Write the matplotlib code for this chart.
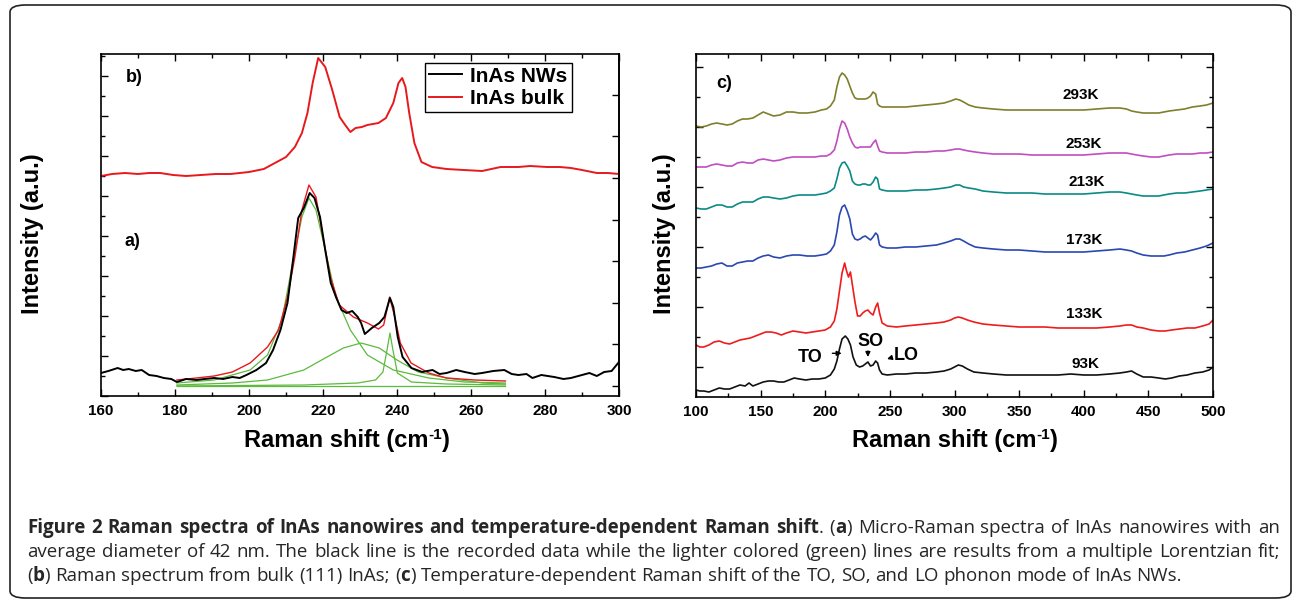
import matplotlib.pyplot as plt
from matplotlib.patches import FancyBboxPatch
from matplotlib.ticker import MultipleLocator, FixedLocator

W, H = 1293, 602

# ---- panels a) and b): Raman shift (cm-1) vs intensity (a.u.) ----
bulk_x = [160, 163, 166.5, 170, 173, 176, 179.5, 183, 187, 191, 195, 200, 204, 207, 210,
          212.4, 214.3, 215.8, 217.2, 218.7, 220.6, 222.5, 224.5, 226, 227.4, 228.8, 230.5,
          232, 235, 237, 239, 240.4, 241.4, 242.3, 243.3, 244.7, 246.6, 249.5, 253.4, 258,
          263, 268, 272.8, 276, 280.5, 284, 287, 290, 294, 297, 300]
bulk_y = [220, 222, 223, 222, 223, 223, 221, 220, 221, 222, 222, 224, 227, 233, 239,
          249, 263, 283, 313, 338, 329, 306, 279, 271, 264, 268, 269,
          271, 273, 278, 293, 313, 318, 309, 283, 253, 234, 229, 227, 226,
          225, 229, 229, 230, 229, 229, 228, 226, 223, 223, 222]

nw_x = [160, 162, 164.5, 166, 167.5, 169.4, 171, 173, 175, 177, 179, 180.5, 183, 185.8, 188,
        190.6, 193, 195.5, 197.5, 199.3, 202, 204.6, 206.5, 208.5, 210.4, 211.9, 213.3,
        214.8, 216.4, 217.7, 219.2, 220.6, 222.1, 223.5, 225, 226.4, 227.9, 229.4, 230.3,
        231.3, 233.2, 235.2, 236.6, 238.1, 239, 240.2, 241.5, 243.9, 246.8, 249.6, 251.5,
        253.4, 256, 258.3, 261, 263, 266, 269, 271, 272.8, 275, 276.6, 279, 282.5, 285,
        287, 290, 292, 294, 296, 298, 300]
nw_y = [23, 25, 28, 26, 27, 25, 26, 21, 20, 18, 17, 14, 17, 16, 17,
        18, 17, 19, 18, 21, 26, 33, 46, 66, 93, 136, 178,
        188, 203, 198, 179, 146, 113, 99, 86, 83, 85, 79, 73,
        62, 68, 73, 79, 98, 89, 59, 39, 28, 24, 26, 22,
        23, 26, 24, 22, 23, 25, 26, 22, 21, 22, 18, 21, 19, 17,
        18, 21, 23, 20, 24, 25, 34]

fit_x = [180.5, 185.8, 190.6, 195.5, 200.3, 205, 208, 210.4, 212.4, 214.3, 216.2, 218.1,
         220, 222, 224.4, 228.2, 232, 235, 236.4, 238, 239.4, 240.9, 243.8, 248.6, 253.4,
         261, 269.3]
fit_y = [16, 18, 20, 24, 33, 49, 66, 99, 139, 186, 211, 199,
         159, 119, 91, 79, 73, 67, 71, 99, 79, 53, 33, 23, 18,
         16, 15]

to_x = [180.5, 190.6, 200.3, 205, 208.9, 211.8, 214.3, 216.2, 218.1, 220.6, 223.5, 227.4,
        232, 239, 248.6, 258.3, 269.3]
to_y = [13, 16, 26, 41, 76, 133, 179, 198, 186, 146, 99, 66,
        41, 26, 18, 14, 13]

so_x = [180.5, 195.5, 205, 214.8, 220.6, 225.5, 230.3, 235.2, 240, 245.7, 253.4, 263, 269.3]
so_y = [11, 13, 16, 26, 38, 48, 53, 48, 36, 24, 18, 13, 12]

lo_x = [180.5, 214.8, 229.4, 234.2, 236.2, 237.3, 238.1, 238.9, 240.1, 243.9, 253.4, 269.3]
lo_y = [10, 11, 13, 16, 24, 46, 63, 46, 23, 14, 12, 11]

# ---- panel c): temperature series ----
temps = ["93K", "133K", "173K", "213K", "253K", "293K"]
colors = ["#111111", "#ee1c1c", "#2a48b0", "#0a8a86", "#c04ec0", "#7f7f2c"]

t93_x = [100, 103, 106, 110, 114, 118, 122, 126, 130, 134, 138, 141, 144, 148, 152, 156,
         160, 164, 168, 172, 176, 180, 185, 190, 195, 200, 204, 207, 209, 211, 213, 215.5,
         217.5, 219.5, 221.5, 224, 226.5, 229, 231, 233, 235, 237, 239, 240.5, 242, 244,
         248, 255, 262, 270, 278, 286, 292, 297, 300, 303, 306, 310, 315, 322, 330, 340,
         350, 360, 370, 380, 390, 400, 410, 420, 428, 433, 437, 441, 446, 452, 458, 463,
         468, 474, 480, 486, 492, 497, 500]
t93_y = [7, 6, 6, 5, 7, 9, 8, 8, 10, 12, 11, 14, 11, 13, 15, 16,
         16, 15, 15, 17, 19, 18, 17, 18, 18, 19, 22, 28, 36, 48, 58, 61,
         58, 52, 40, 32, 30, 31, 33, 35, 31, 32, 36, 34, 27, 23,
         22, 23, 23, 24, 24, 25, 26, 28, 30, 32, 31, 28, 25, 24, 23, 22,
         22, 22, 22, 22, 23, 22, 22, 23, 24, 25, 26, 23, 20, 20, 19, 18,
         19, 21, 22, 24, 25, 27, 30]

t133_x = [100, 103, 106, 110, 114, 118, 122, 126, 130, 134, 138, 142, 146, 150, 154, 158,
          162, 166, 170, 175, 180, 185, 190, 195, 200, 204, 207, 209, 211, 213, 215, 216.5,
          218, 219.5, 221, 223, 225, 227, 229, 231, 233, 235, 237, 239, 240.5, 242, 244,
          248, 255, 262, 270, 278, 286, 292, 297, 300, 303, 306, 310, 315, 322, 330, 340,
          350, 360, 370, 380, 390, 400, 410, 420, 428, 433, 437, 441, 446, 452, 458, 463,
          468, 474, 480, 486, 492, 497, 500]
t133_y = [52, 50, 50, 52, 55, 56, 54, 53, 55, 57, 58, 59, 61, 63, 65, 65,
          64, 62, 64, 66, 65, 64, 65, 66, 67, 70, 76, 88, 106, 124, 134, 126,
          120, 125, 112, 95, 81, 81, 84, 86, 87, 84, 82, 90, 94, 84, 74,
          71, 70, 71, 72, 73, 74, 75, 77, 79, 80, 79, 77, 75, 73, 72, 71,
          70, 70, 70, 69, 69, 69, 69, 70, 71, 72, 72, 70, 69, 67, 66, 66,
          67, 68, 69, 69, 71, 73, 77]

# 173K .. 293K were read on a common grid of Raman shifts
grid_x = [100, 104, 108, 112, 116, 120, 124, 128, 132, 136, 140, 144, 148, 152, 156, 160,
          165, 170, 175, 180, 186, 192, 197, 201, 204, 207, 209, 211, 213, 215, 217, 219,
          221, 223, 225, 227, 229, 231, 233, 235, 237, 239, 240.5, 242, 244, 248, 255, 262,
          270, 278, 286, 292, 297, 301, 304, 307, 311, 316, 322, 330, 340, 350, 360, 370,
          380, 390, 400, 410, 420, 428, 433, 437, 441, 446, 452, 458, 462, 466, 472, 478,
          484, 490, 495, 500]
t173_y = [129, 129, 130, 131, 133, 134, 131, 131, 134, 135, 136, 136, 139, 141, 142, 140,
          139, 141, 142, 142, 141, 141, 142, 143, 146, 152, 165, 182, 190, 192, 186, 178,
          163, 158, 157, 158, 160, 161, 159, 157, 160, 164, 162, 152, 150, 149, 149, 150,
          150, 151, 152, 154, 156, 158, 158, 156, 153, 150, 149, 148, 147, 147, 146, 145,
          145, 145, 145, 146, 147, 148, 147, 146, 144, 142, 141, 141, 141, 142, 144, 145,
          147, 149, 151, 154]
t213_y = [189, 188, 188, 190, 192, 192, 190, 190, 193, 195, 195, 195, 198, 200, 200, 199,
          198, 199, 201, 202, 202, 202, 203, 204, 206, 209, 218, 229, 234, 235, 231, 226,
          216, 213, 212, 212, 213, 213, 212, 212, 215, 220, 218, 208, 207, 206, 206, 206,
          207, 207, 208, 209, 210, 212, 212, 210, 209, 208, 206, 205, 204, 204, 204, 203,
          203, 203, 203, 204, 205, 205, 204, 203, 202, 201, 201, 201, 202, 203, 204, 204,
          205, 206, 207, 208]
t253_y = [230, 230, 230, 232, 233, 232, 231, 231, 234, 235, 234, 234, 237, 238, 237, 236,
          237, 239, 240, 240, 240, 240, 241, 241, 243, 247, 256, 268, 276, 274, 268, 260,
          254, 250, 249, 250, 250, 250, 250, 250, 254, 257, 251, 246, 245, 244, 244, 244,
          245, 245, 246, 246, 247, 248, 248, 247, 246, 245, 244, 243, 243, 243, 242, 242,
          242, 242, 242, 243, 244, 244, 244, 243, 242, 241, 240, 240, 241, 242, 243, 243,
          243, 244, 244, 245]
t293_y = [271, 270, 271, 273, 274, 273, 272, 273, 276, 278, 278, 279, 282, 285, 283, 281,
          282, 285, 285, 284, 284, 285, 287, 288, 291, 297, 310, 320, 324, 322, 318, 311,
          304, 299, 298, 298, 298, 298, 299, 301, 305, 303, 293, 291, 290, 290, 290, 290,
          291, 292, 293, 294, 296, 298, 297, 295, 292, 290, 289, 288, 287, 287, 287, 287,
          287, 287, 287, 288, 289, 289, 288, 286, 285, 284, 284, 284, 285, 286, 287, 288,
          290, 291, 292, 294]

series_x = [t93_x, t133_x, grid_x, grid_x, grid_x, grid_x]
series_y = [t93_y, t133_y, t173_y, t213_y, t253_y, t293_y]
label_x = [401.5, 400.6, 400, 402, 399.8, 397.8]
label_y = [32.7, 83, 157, 214.7, 253, 302]

caption = [
    "*Figure 2 Raman spectra of InAs nanowires and temperature-dependent Raman shift*. (*a*) "
    "Micro-Raman spectra of InAs nanowires with an",
    "average diameter of 42 nm. The black line is the recorded data while the lighter colored "
    "(green) lines are results from a multiple Lorentzian fit;",
    "(*b*) Raman spectrum from bulk (111) InAs; (*c*) Temperature-dependent Raman shift of the "
    "TO, SO, and LO phonon mode of InAs NWs.",
]

plt.rcParams["font.family"] = ["Liberation Sans", "DejaVu Sans"]
plt.rcParams["font.weight"] = "bold"

fig = plt.figure(figsize=(W / 100, H / 100), dpi=100)
renderer = fig.canvas.get_renderer()


def px_axes(x0, y0, x1, y1):
    return fig.add_axes([x0 / W, 1 - y1 / H, (x1 - x0) / W, (y1 - y0) / H])


def text_width(s, **kw):
    t = fig.text(0, 0, s, **kw)
    w = t.get_window_extent(renderer).width
    t.remove()
    return w


def style_axes(ax):
    for sp in ax.spines.values():
        sp.set_linewidth(1.2)
    ax.tick_params(which="both", direction="in", top=True, labelsize=11, pad=6, width=1)
    ax.tick_params(which="major", length=5)
    ax.tick_params(which="minor", length=3)
    ax.tick_params(axis="y", labelleft=False)


# left panel
ax1 = px_axes(101, 54, 619, 396)
ax1.plot(bulk_x, bulk_y, color="#e8191c", lw=1.4, label="InAs bulk")
ax1.plot(to_x, to_y, color="#5cba3c", lw=0.9)
ax1.plot(so_x, so_y, color="#5cba3c", lw=0.9)
ax1.plot(lo_x, lo_y, color="#5cba3c", lw=0.9)
ax1.plot([180.5, 269.3], [10, 10], color="#5cba3c", lw=0.9)
ax1.plot(fit_x, fit_y, color="#e8191c", lw=1.0)
ax1.plot(nw_x, nw_y, color="black", lw=1.4, label="InAs NWs")
ax1.set_xlim(160, 300)
ax1.set_ylim(0, 342)
style_axes(ax1)
ax1.xaxis.set_major_locator(MultipleLocator(20))
ax1.xaxis.set_minor_locator(MultipleLocator(10))
ax1.yaxis.set_major_locator(MultipleLocator(40))
ax1.yaxis.set_minor_locator(MultipleLocator(20))
ax1.tick_params(axis="y", right=False)
sec = ax1.secondary_yaxis("right")
sec.yaxis.set_major_locator(FixedLocator([10 + 41.6 * k for k in range(8)]))
sec.tick_params(direction="in", length=5, width=1, labelright=False)
sec.spines["right"].set_linewidth(1.2)
h = ax1.get_legend_handles_labels()[0]
leg = ax1.legend([h[1], h[0]], ["InAs NWs", "InAs bulk"], loc="upper right",
                 bbox_to_anchor=(0.909, 0.975), prop={"size": 15, "weight": "bold"},
                 handlelength=1.6, handletextpad=0.4, labelspacing=0.15, borderpad=0.2,
                 borderaxespad=0, fancybox=False, edgecolor="black", framealpha=1)
leg.get_frame().set_linewidth(1.0)
ax1.text(168.9, 318, "b)", fontsize=13, ha="center", va="center")
ax1.text(168.4, 154, "a)", fontsize=13, ha="center", va="center")

# right panel
ax2 = px_axes(696, 54, 1213, 397)
for xs, ys, c, t, lx, ly in zip(series_x, series_y, colors, temps, label_x, label_y):
    ax2.plot(xs, ys, color=c, lw=1.2)
    ax2.text(lx, ly, t, fontsize=11, ha="center", va="center")
ax2.set_xlim(100, 500)
ax2.set_ylim(0, 343)
style_axes(ax2)
ax2.tick_params(which="both", right=True)
ax2.xaxis.set_major_locator(MultipleLocator(50))
ax2.xaxis.set_minor_locator(MultipleLocator(25))
ax2.yaxis.set_major_locator(FixedLocator([30 + 60 * k for k in range(6)]))
ax2.yaxis.set_minor_locator(FixedLocator([60 * k for k in range(1, 6)]))
ax2.text(121.5, 313.7, "c)", fontsize=13, ha="center", va="center")
ax2.text(188.2, 40, "TO", fontsize=13, ha="center", va="center")
ax2.text(235.4, 56, "SO", fontsize=13, ha="center", va="center")
ax2.text(263, 42, "LO", fontsize=13, ha="center", va="center")
arrow = dict(arrowstyle="-|>", color="black", lw=1, mutation_scale=7, shrinkA=0, shrinkB=0)
ax2.annotate("", xy=(212.7, 43.7), xytext=(205.5, 43.7), arrowprops=arrow)
ax2.annotate("", xy=(233, 40), xytext=(233, 46), arrowprops=arrow)
ax2.annotate("", xy=(247.8, 38), xytext=(251.8, 39.5), arrowprops=arrow)

# axis labels; the superscript is a plain hyphen as in the original
for cx in (347, 955):
    parts = [("Raman shift (cm", 17, 0), ("-1", 11, 8), (")", 17, 0)]
    widths = [text_width(s, fontsize=fs) for s, fs, _ in parts]
    x = cx - sum(widths) / 2
    for (s, fs, dy), w in zip(parts, widths):
        fig.text(x / W, 1 - (447 - dy) / H, s, fontsize=fs, ha="left", va="baseline")
        x += w
for cx in (33, 664):
    fig.text(cx / W, 1 - 234 / H, "Intensity (a.u.)", fontsize=17, rotation=90,
             ha="center", va="center")

# outer frame
frame = FancyBboxPatch((10 / W, 4 / H), 1281 / W, 593 / H,
                       boxstyle="round,pad=0,rounding_size=0.012",
                       transform=fig.transFigure, fill=False, lw=1.2, ec="#222222")
fig.patches.append(frame)

# caption, justified like the journal layout
cap_size = 13.5
cap_font = "Open Sans"
space_w = text_width("a a", fontsize=cap_size, family=cap_font, weight="normal") - \
    text_width("aa", fontsize=cap_size, family=cap_font, weight="normal")
bold = False
for i, (line, base) in enumerate(zip(caption, [533, 557, 581])):
    words = []
    for raw in line.split(" "):
        runs = []
        for j, part in enumerate(raw.split("*")):
            if j > 0:
                bold = not bold
            if part:
                runs.append((part, bold))
        words.append([(p, b, text_width(p, fontsize=cap_size, family=cap_font,
                                        weight="bold" if b else "normal"))
                      for p, b in runs])
    widths = [sum(r[2] for r in w) for w in words]
    gap = space_w
    if i < len(caption) - 1:
        gap = max((1280 - 27 - sum(widths)) / (len(words) - 1), 0.6 * space_w)
    x = 27
    for w, ww in zip(words, widths):
        xr = x
        for p, b, rw in w:
            fig.text(xr / W, 1 - base / H, p, fontsize=cap_size, family=cap_font,
                     weight="bold" if b else "normal", color="#262626",
                     ha="left", va="baseline")
            xr += rw
        x += ww + gap

fig.savefig("out.png", dpi=100)
